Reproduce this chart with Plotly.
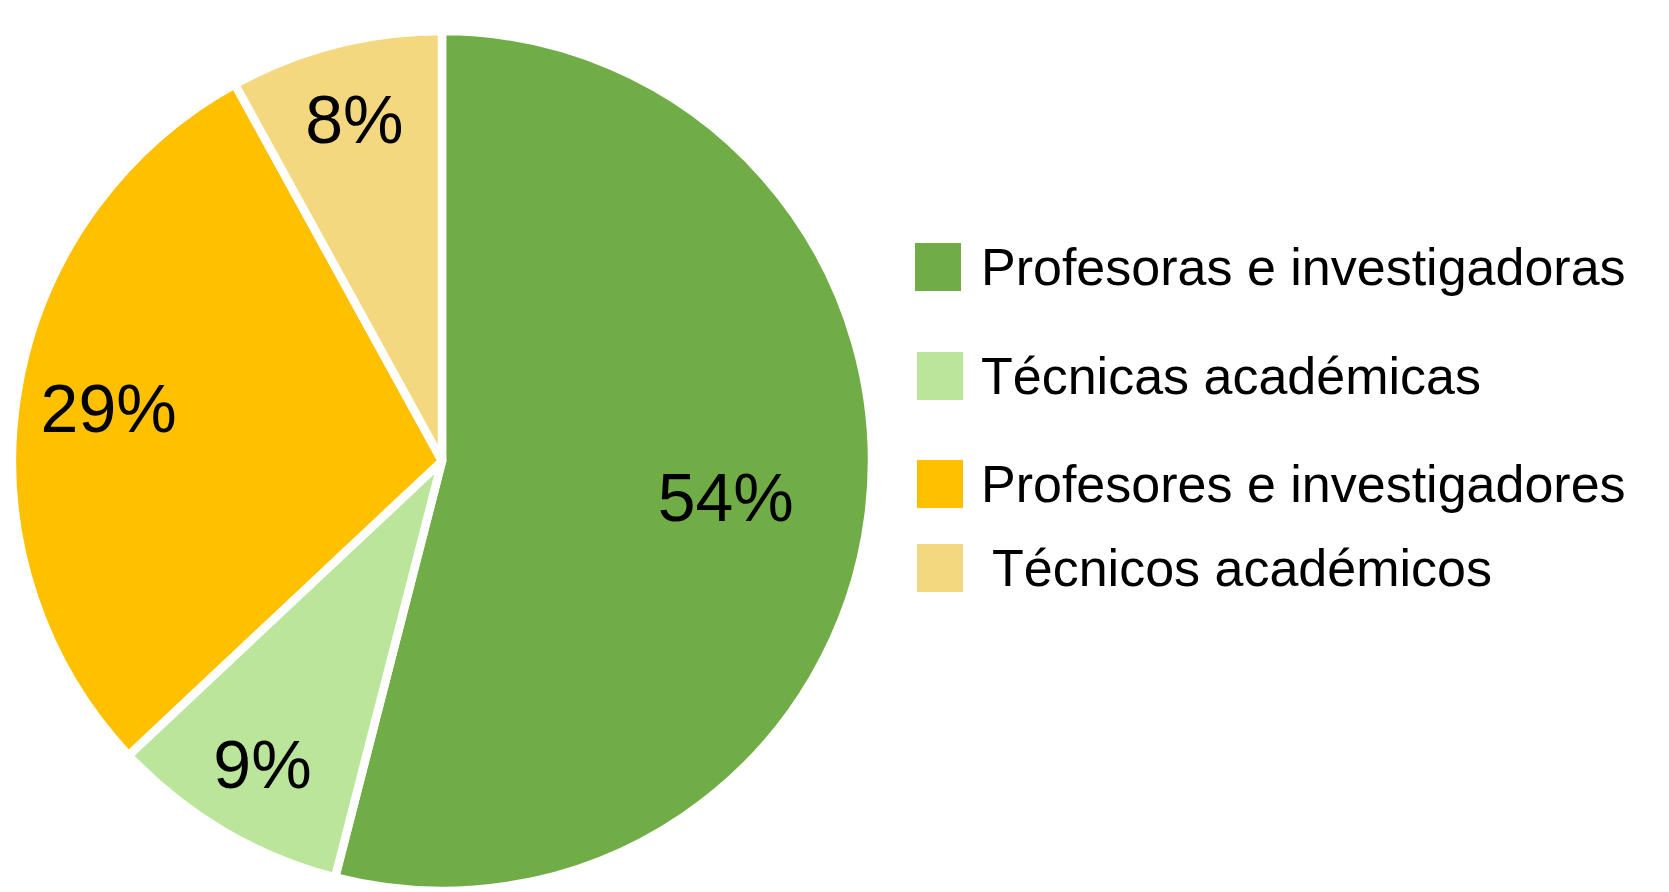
import plotly.graph_objects as go

labels = ["Profesoras e investigadoras", "Técnicas académicas",
          "Profesores e investigadores", "Técnicos académicos"]
values = [54, 9, 29, 8]
colors = ["#70AD47", "#BBE59B", "#FFC000", "#F4D87F"]

# page body has an 8px margin; work in reference pixel coords minus 8
OFF = 8
W, H = 1669 - OFF, 892 - OFF
FONT = "Liberation Sans, Arial, sans-serif"

# pie geometry (reference pixels)
cx, cy, r = 442, 461, 430
dom = dict(x=[(cx - r - OFF) / W, (cx + r - OFF) / W],
           y=[1 - (cy + r - OFF) / H, 1 - (cy - r - OFF) / H])

fig = go.Figure()
fig.add_trace(go.Pie(
    labels=labels, values=values, sort=False, direction="clockwise", rotation=0,
    marker=dict(colors=colors, line=dict(color="white", width=8.5)),
    textinfo="none", domain=dom, showlegend=False,
    hoverinfo="label+percent",
))

# transparent overlay pies that carry the percentage labels; the hole size
# controls how far out from the centre each label sits
label_hole = [0.33, 0.64, 0.57, 0.64]
for i in range(len(values)):
    tt = ["%{value}%" if j == i else "" for j in range(len(values))]
    fig.add_trace(go.Pie(
        labels=labels, values=values, sort=False, direction="clockwise",
        rotation=0, hole=label_hole[i],
        marker=dict(colors=["rgba(0,0,0,0)"] * len(values),
                    line=dict(width=0)),
        texttemplate=tt, textposition="inside",
        insidetextorientation="horizontal",
        textfont=dict(family=FONT, size=68, color="black"),
        domain=dom, showlegend=False, hoverinfo="skip",
    ))

# manual legend with large swatches (reference pixels)
sw_x = [915, 917, 917, 917]
sw_y = [243, 352, 460, 544]
txt_x = [979, 979, 979, 990]
sw_w, sw_h = 46, 48
shapes, annotations = [], []
for i, lab in enumerate(labels):
    x0, y0 = sw_x[i] - OFF, sw_y[i] - OFF
    shapes.append(dict(type="rect", xref="paper", yref="paper",
                       x0=x0 / W, x1=(x0 + sw_w) / W,
                       y0=1 - (y0 + sw_h) / H, y1=1 - y0 / H,
                       fillcolor=colors[i], line=dict(width=0)))
    annotations.append(dict(xref="paper", yref="paper", x=(txt_x[i] - OFF) / W,
                            y=1 - (y0 + sw_h / 2) / H, text=lab, showarrow=False,
                            xanchor="left", yanchor="middle",
                            font=dict(family=FONT, size=52, color="black")))

fig.update_layout(width=W, height=H, margin=dict(l=0, r=0, t=0, b=0),
                  paper_bgcolor="white", plot_bgcolor="white",
                  shapes=shapes, annotations=annotations)
fig.write_html("out.html")
